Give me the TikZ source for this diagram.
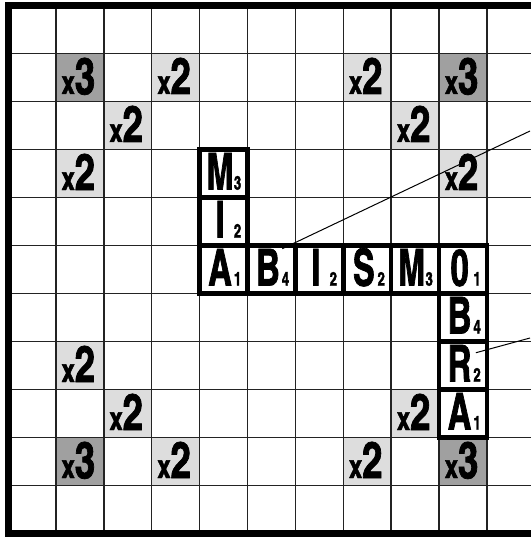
\documentclass[tikz,border=0pt]{standalone}
\usepackage{fontspec}
\usetikzlibrary{calc}
\newfontfamily\cnfont{texgyreheroscn-bold}[Extension=.otf, FakeBold=1.4, FakeStretch=0.78]
\newfontfamily\cnsub{texgyreheroscn-bold}[Extension=.otf, FakeBold=1.6, FakeStretch=0.85]
\newfontfamily\cnbonus{texgyreheroscn-bold}[Extension=.otf, FakeBold=1.4, FakeStretch=0.88]
\definecolor{dkgray}{RGB}{160,160,160}
\definecolor{ltgray}{RGB}{221,221,221}
\definecolor{gridc}{RGB}{35,35,35}
\tikzset{
  gridline/.style={draw=gridc, line width=1.5pt},
  bonus3/.style={fill=dkgray},
  bonus2/.style={fill=ltgray},
  bonustxt/.style={inner sep=0pt, anchor=base, font=\cnbonus\fontsize{51}{51}\selectfont},
  tilebox/.style={draw=black, fill=white, line width=4.5pt, inner sep=0pt, minimum width=47.9pt, minimum height=48pt},
  tileletter/.style={inner sep=0pt, anchor=base, font=\cnfont\fontsize{51}{51}\selectfont},
  tilesub/.style={inner sep=0pt, anchor=base, font=\cnsub\fontsize{19}{19}\selectfont},
  pointer/.style={draw=black, line width=1pt},
  frame/.style={draw=black, line width=7pt}
}
\newcommand\tileat[5]{%
  \node[tilebox] (#1) at ({8+47.9*#2+23.95},{5.5+48*#3+24}) {};
  \node[tileletter] (#1-l) at ({8+47.9*#2+20.5},{5.5+48*#3+40}) {#4};
  \node[tilesub] (#1-n) at ({8+47.9*#2+38},{5.5+48*#3+40}) {#5};
}
\begin{document}
\begin{tikzpicture}[x=1pt,y=-1pt]
\useasboundingbox (0,0) rectangle (530,537);
\fill[white] (0,0) rectangle (530,537);
% bonus squares
\foreach \c/\r/\k in {1/1/3,3/1/2,7/1/2,9/1/3,2/2/2,8/2/2,1/3/2,9/3/2,1/7/2,2/8/2,8/8/2,1/9/3,3/9/2,7/9/2,9/9/3}{
  \fill[bonus\k] ({8+47.9*\c},{5.5+48*\r}) rectangle ++(47.9,48);
}
% grid
\foreach \k in {1,...,10}{
  \draw[gridline] ({8+47.9*\k},5.5) -- ({8+47.9*\k},533.5);
  \draw[gridline] (8,{5.5+48*\k}) -- (540,{5.5+48*\k});
}
% bonus labels
\foreach \c/\r/\k in {1/1/3,3/1/2,7/1/2,9/1/3,2/2/2,8/2/2,1/3/2,9/3/2,1/7/2,2/8/2,8/8/2,1/9/3,3/9/2,7/9/2,9/9/3}{
  \node[bonustxt] (b\c-\r) at ({8+47.9*\c+22.5},{5.5+48*\r+40.5}) {{\fontsize{33}{33}\selectfont x}\k};
}
% tiles
\tileat{m3}{4}{3}{M}{3}
\tileat{i2a}{4}{4}{I}{2}
\tileat{a1a}{4}{5}{A}{1}
\tileat{b4a}{5}{5}{B}{4}
\tileat{i2b}{6}{5}{I}{2}
\tileat{s2}{7}{5}{S}{2}
\tileat{m3b}{8}{5}{M}{3}
\tileat{o1}{9}{5}{0}{1}
\tileat{b4b}{9}{6}{B}{4}
\tileat{r2}{9}{7}{R}{2}
\tileat{a1b}{9}{8}{A}{1}
% pointer lines
\coordinate (p1s) at ($(b4a.north west)+(37,5.5)$);
\coordinate (p1e) at (530,131);
\coordinate (p2s) at ($(r2.north west)+(39,13.5)$);
\coordinate (p2e) at (530,338);
\draw[pointer] (p1s) -- (p1e);
\draw[pointer] (p2s) -- (p2e);
% frame
\draw[frame] (8.5,6) rectangle (545,533);
\end{tikzpicture}
\end{document}
